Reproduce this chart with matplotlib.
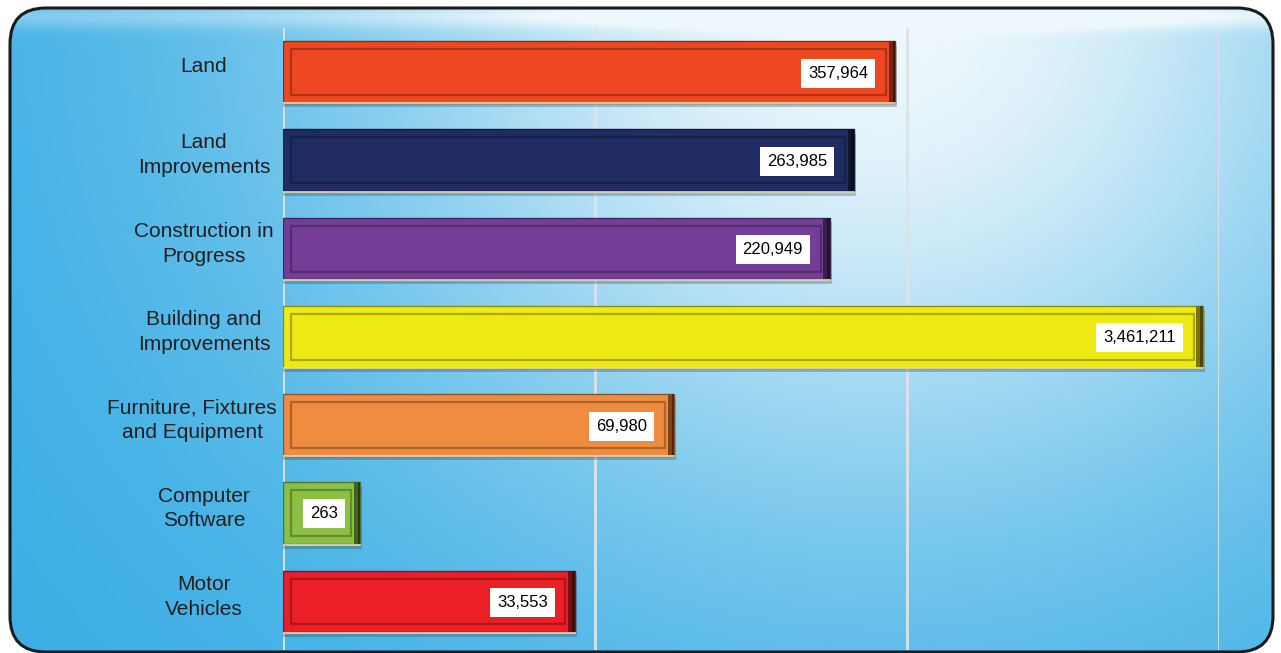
import numpy as np
import matplotlib.pyplot as plt
from matplotlib.patches import FancyBboxPatch
from matplotlib.colors import to_rgb

# datos del grafico
categorias = ["Land", "Land\nImprovements", "Construction in\nProgress",
              "Building and\nImprovements", "Furniture, Fixtures\nand Equipment",
              "Computer\nSoftware", "Motor\nVehicles"]
valores = [357964, 263985, 220949, 3461211, 69980, 263, 33553]
colores = ["#EE4823", "#202C63", "#743E98", "#F0EA14", "#EF8C3F", "#8CC044", "#EC1F26"]

XMIN, XMAX = 3900, 3.9e6
STUB = 6900  # ancho minimo visible para valores bajo el minimo del eje

plt.rcParams['font.family'] = ['Liberation Sans', 'DejaVu Sans']

W, H = 1281, 653
fig = plt.figure(figsize=(W / 100, H / 100), dpi=100)

# fondo con degradado y marco redondeado
bg = fig.add_axes([0, 0, 1, 1])
bg.set_xlim(0, W)
bg.set_ylim(H, 0)
bg.axis('off')
X, Y = np.meshgrid(np.arange(W), np.arange(H))
w = np.exp(-(((X - 880) / 560) ** 2 + ((Y - 10) / 520) ** 2))
w = np.clip(w + 0.3 * np.exp(-((Y - 16) / 12) ** 2), 0, 1)
azul = np.array(to_rgb("#3AAEE5"))
claro = np.array(to_rgb("#EEF8FC"))
img = azul[None, None, :] * (1 - w[..., None]) + claro[None, None, :] * w[..., None]
im = bg.imshow(img, extent=(0, W, H, 0), zorder=0)
marco = FancyBboxPatch((10, 8), 1263, 644, boxstyle="round,pad=0,rounding_size=36",
                       fc='none', ec='#1b1b1b', lw=2.2, zorder=2)
bg.add_patch(marco)
im.set_clip_path(marco)

ax = fig.add_axes([283 / W, 3 / H, (1219 - 283) / W, (650 - 28) / H])
ax.set_facecolor('none')
ax.set_xscale('log')
ax.set_xlim(XMIN, XMAX)
ax.set_ylim(6.55, -0.5)

for s in ax.spines.values():
    s.set_visible(False)
ax.set_xticks([XMIN * 10, XMIN * 100, XMAX])
ax.xaxis.set_minor_locator(plt.NullLocator())
ax.tick_params(axis='both', length=0, labelbottom=False, labelleft=False)
ax.grid(axis='x', color='#DDE3E6', lw=2)
ax.set_axisbelow(True)
ax.axvline(XMIN * 1.003, color='#DDE3E6', lw=2, zorder=1)

ancho = np.maximum(valores, STUB)

def tono(c, f):
    r = np.array(to_rgb(c))
    return tuple(np.clip(r * f, 0, 1))

def barra(i, x0, x1, h, **kw):
    ax.barh(i, x1 - x0, left=x0, height=h, **kw)

for i, (v, c) in enumerate(zip(ancho, colores)):
    # sombra
    barra(i + 0.05, XMIN, v * 1.015, 0.70, color='#2a4a5a', alpha=0.3, lw=0, zorder=2)
    # borde exterior
    barra(i, XMIN, v, 0.70, color=c, ec=tono(c, 0.6), lw=1.0, zorder=3)
    # borde oscuro derecho
    barra(i, v / 1.05, v, 0.70, color=tono(c, 0.5), lw=0, zorder=3.4)
    barra(i, v / 1.02, v, 0.70, color=tono(c, 0.3), lw=0, zorder=3.5)
    # linea clara inferior
    ax.plot([XMIN, v], [i + 0.355, i + 0.355], color='#E8DDB0', lw=1.2, zorder=3.6)
    # cara interior
    barra(i, XMIN * 1.06, v / 1.07, 0.52, color=c, ec=tono(c, 0.72), lw=1.6, zorder=4)

for i, (v, d) in enumerate(zip(ancho, valores)):
    caja = dict(boxstyle='square,pad=0.42', fc='white', ec='none')
    if v / XMIN < 3:
        xm = np.sqrt(XMIN * v)
        ax.annotate(f"{d:,}", (xm * 1.02, i), ha='center', va='center', fontsize=12,
                    zorder=6, bbox=caja)
    else:
        ax.annotate(f"{d:,}", (v, i), xytext=(-27, -1), textcoords='offset pixels',
                    ha='right', va='center', fontsize=12, zorder=6, bbox=caja)

# etiquetas de categoria centradas, sin pasar del borde del eje
fig.canvas.draw()
r = fig.canvas.get_renderer()
for i, cat in enumerate(categorias):
    t = ax.text(204 / W, 1 - (67 + 88.3 * i) / H, cat, transform=fig.transFigure,
                ha='center', va='center', fontsize=15, color='#231F20', linespacing=1.4)
    bb = t.get_window_extent(r)
    if bb.x1 > 277:
        t.set_x((277 - bb.width / 2) / W)

plt.savefig('out.png', dpi=100)
